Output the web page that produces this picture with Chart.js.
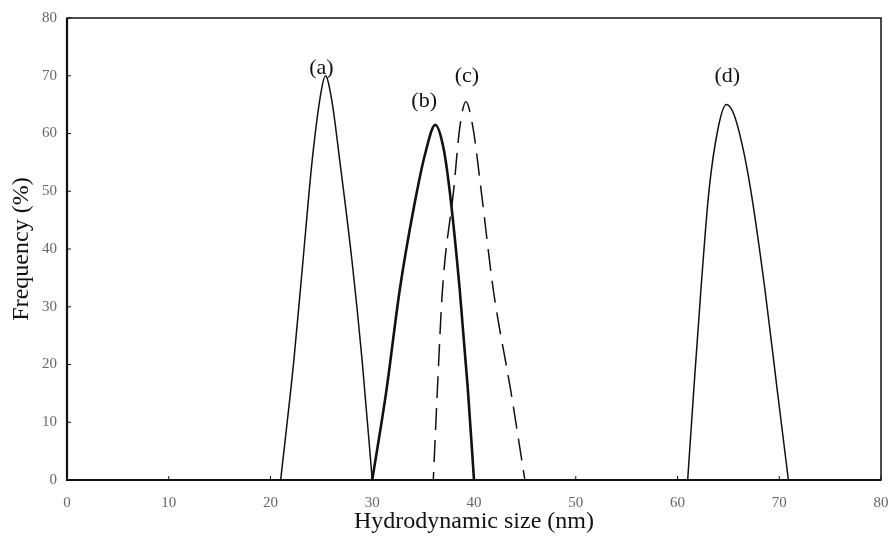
<!DOCTYPE html>
<html>
<head>
<meta charset="utf-8">
<script src="https://cdn.jsdelivr.net/npm/chart.js@4/dist/chart.umd.min.js"></script>
<style>
  html, body { margin: 0; padding: 0; background: #fff; }
</style>
</head>
<body>
<canvas id="dls-chart" width="890" height="536"></canvas>
<script>
// Size distributions: hydrodynamic size (nm) vs frequency (%)
const sizeA = [21, 22.3, 23.2, 24.1, 25, 25.4, 26, 26.8, 28, 29, 30];
const freqA = [0, 20.8, 38.1, 55.4, 67.5, 70, 66, 55.4, 38.1, 20.8, 0];

const sizeB = [30, 31.4, 32.7, 34.1, 35.2, 36.2, 37, 37.6, 38.6, 39.4, 40];
const freqB = [0, 15.6, 32.9, 47.3, 56.5, 61.5, 57.5, 50.2, 32.9, 15.6, 0];

const sizeC = [36, 36.4, 36.9, 38, 38.6, 39.2, 39.9, 40.7, 41.9, 43.6, 45];
const freqC = [0, 15.6, 32.9, 50.2, 61, 65.5, 61, 50.2, 32.9, 15.6, 0];

const sizeD = [61, 61.6, 62.3, 63.1, 64, 64.8, 65.5, 66.3, 67.2, 68.6, 69.8, 70.9];
const freqD = [0, 15.6, 32.9, 50.2, 61, 65, 63.5, 58.5, 50.2, 32.9, 15.6, 0];

// Peak labels and where they sit (data units)
const peakNames = ['(a)', '(b)', '(c)', '(d)'];
const peakLabelX = [25.0, 35.1, 39.3, 64.9];
const peakLabelY = [71.3, 65.6, 70.0, 69.9];

const axisTicks = [0, 10, 20, 30, 40, 50, 60, 70, 80];

const toPoints = (xs, ys) => xs.map((x, i) => ({ x, y: ys[i] }));

// Frame around the plot plus short inward tick marks
const framePlugin = {
    id: 'frame',
    afterDraw(chart) {
        const { ctx, chartArea: a, scales } = chart;
        ctx.save();
        ctx.strokeStyle = '#111';
        ctx.lineWidth = 1.5;
        ctx.strokeRect(a.left, a.top, a.right - a.left, a.bottom - a.top);
        ctx.lineWidth = 2.2;
        ctx.beginPath();
        ctx.moveTo(a.left, a.top);
        ctx.lineTo(a.left, a.bottom);
        ctx.lineTo(a.right, a.bottom);
        ctx.stroke();
        ctx.lineWidth = 1;
        ctx.beginPath();
        axisTicks.forEach(v => {
            const px = scales.x.getPixelForValue(v);
            ctx.moveTo(px, a.bottom);
            ctx.lineTo(px, a.bottom - 4);
            const py = scales.y.getPixelForValue(v);
            ctx.moveTo(a.left, py);
            ctx.lineTo(a.left + 4, py);
        });
        ctx.stroke();
        ctx.restore();
    }
};

const peakLabelPlugin = {
    id: 'peakLabels',
    afterDatasetsDraw(chart) {
        const { ctx, scales } = chart;
        ctx.save();
        ctx.fillStyle = '#111';
        ctx.font = '22px "Liberation Serif", "DejaVu Serif", serif';
        ctx.textAlign = 'center';
        ctx.textBaseline = 'middle';
        peakNames.forEach((name, i) => {
            ctx.fillText(name, scales.x.getPixelForValue(peakLabelX[i]), scales.y.getPixelForValue(peakLabelY[i]));
        });
        ctx.restore();
    }
};

const lineSet = (xs, ys, width, dash, dashOffset) => ({
    data: toPoints(xs, ys),
    borderColor: '#111',
    borderWidth: width,
    borderDash: dash || [],
    borderDashOffset: dashOffset || 0,
    pointRadius: 0,
    fill: false,
    cubicInterpolationMode: 'monotone'
});

const tickFont = { family: '"Liberation Serif", serif', size: 15 };
const titleFont = { family: '"Liberation Serif", "DejaVu Serif", serif', size: 24 };

new Chart(document.getElementById('dls-chart'), {
    type: 'line',
    data: {
        datasets: [
            lineSet(sizeA, freqA, 1.5),
            lineSet(sizeB, freqB, 2.6),
            lineSet(sizeC, freqC, 1.5, [22, 10], 14),
            lineSet(sizeD, freqD, 1.5)
        ]
    },
    options: {
        responsive: false,
        animation: false,
        layout: { padding: { top: 18, right: 9, left: 0, bottom: 0 } },
        plugins: { legend: { display: false }, tooltip: { enabled: false } },
        scales: {
            x: {
                type: 'linear',
                min: 0, max: 80,
                afterFit: s => { s.height = 56; s.paddingLeft = 0; s.paddingRight = 0; },
                afterBuildTicks: s => { s.ticks = axisTicks.map(v => ({ value: v })); },
                grid: { display: false, drawTicks: false },
                border: { display: false },
                ticks: { color: '#666', font: tickFont, padding: 14, maxRotation: 0 },
                title: { display: true, text: 'Hydrodynamic size (nm)', color: '#111', font: titleFont, padding: { top: 0, bottom: 0 } }
            },
            y: {
                type: 'linear',
                min: 0, max: 80,
                afterFit: s => { s.width = 67; s.paddingTop = 0; s.paddingBottom = 0; },
                afterBuildTicks: s => { s.ticks = axisTicks.map(v => ({ value: v })); },
                grid: { display: false, drawTicks: false },
                border: { display: false },
                ticks: { color: '#666', font: tickFont, padding: 10 },
                title: { display: true, text: 'Frequency (%)', color: '#111', font: titleFont, padding: { top: 7, bottom: 0 } }
            }
        }
    },
    plugins: [framePlugin, peakLabelPlugin]
});
</script>
</body>
</html>
